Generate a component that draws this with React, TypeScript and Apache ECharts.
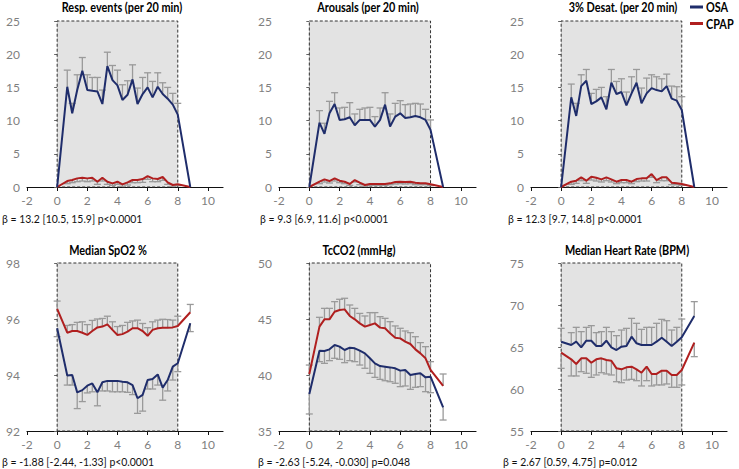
import React, { useEffect, useRef } from "react";
import * as echarts from "echarts";

// time (hours) of each 20-min epoch
const hours = [0, 0.67, 1, 1.33, 1.67, 2, 2.33, 2.67, 3, 3.33, 3.67, 4, 4.33, 4.67, 5, 5.33, 5.67, 6, 6.33, 6.67, 7, 7.33, 7.67, 8, 8.83];
const xTicks = [-2, 0, 2, 4, 6, 8, 10];

// Resp. events
const respOSA = [0, 15.1, 11.1, 14.6, 17.5, 14.6, 14.5, 14.4, 12.5, 18.2, 16.1, 15.3, 13.1, 13.9, 16.2, 12.5, 14.0, 15.0, 13.5, 15.1, 14.0, 13.3, 12.4, 10.9, 0];
const respOSAErr = [0, 2.5, 1.5, 2.3, 2.0, 2.3, 2.0, 2.1, 2.1, 2.1, 2.2, 2.3, 2.3, 2.1, 2.2, 2.4, 2.5, 2.2, 2.4, 2.1, 1.7, 1.7, 1.7, 1.7, 0];
const respCPAP = [0, 0.9, 1.05, 1.3, 1.4, 1.3, 1.4, 0.8, 1.4, 0.8, 0.55, 0.8, 0.4, 0.7, 1.05, 1.05, 1.2, 1.65, 1.3, 1.2, 1.5, 0.7, 0.3, 0.4, 0];
const respCPAPErr = [0, 0.4, 0.4, 0.5, 0.5, 0.5, 0.5, 0.4, 0.5, 0.4, 0.3, 0.4, 0.3, 0.4, 0.4, 0.4, 0.5, 0.5, 0.5, 0.4, 0.5, 0.3, 0.2, 0.2, 0];

// Arousals
const arOSA = [0, 9.7, 8.0, 11.1, 12.5, 10.1, 10.2, 10.5, 9.3, 10.1, 10.1, 10.1, 9.1, 10.1, 12.4, 9.1, 10.6, 11.1, 10.4, 10.5, 10.7, 10.5, 10.1, 8.6, 0];
const arOSAErr = [0, 1.8, 1.6, 1.8, 1.7, 1.8, 1.8, 2.2, 1.7, 1.6, 1.8, 1.9, 1.5, 1.8, 1.8, 1.9, 2.0, 1.9, 2.0, 2.0, 1.9, 2.0, 1.6, 1.5, 0];
const arCPAP = [0, 0.8, 1.15, 0.9, 1.3, 0.95, 0.8, 0.45, 1.05, 0.65, 0.3, 0.45, 0.45, 0.45, 0.45, 0.55, 0.75, 0.8, 0.75, 0.8, 0.65, 0.55, 0.55, 0.4, 0];
const arCPAPErr = [0, 0.3, 0.4, 0.3, 0.4, 0.3, 0.3, 0.2, 0.3, 0.3, 0.2, 0.2, 0.2, 0.2, 0.2, 0.2, 0.3, 0.3, 0.3, 0.3, 0.3, 0.2, 0.2, 0.2, 0];

// 3% Desat.
const desOSA = [0, 13.5, 10.7, 15.2, 16.0, 12.5, 12.9, 13.5, 11.7, 15.7, 14.0, 14.3, 12.3, 14.1, 15.7, 12.6, 14.1, 14.9, 14.6, 14.4, 15.2, 13.3, 13.0, 11.6, 0];
const desOSAErr = [0, 2.0, 1.9, 1.7, 1.7, 1.6, 1.8, 1.5, 1.9, 2.0, 1.9, 2.0, 2.0, 2.5, 2.0, 2.3, 2.3, 2.0, 2.0, 1.9, 1.8, 1.9, 2.1, 2.0, 0];
const desCPAP = [0, 0.8, 0.95, 1.45, 0.95, 1.55, 1.4, 1.15, 1.45, 1.15, 0.8, 1.05, 1.05, 0.8, 1.2, 1.3, 1.3, 1.95, 1.05, 1.45, 1.45, 0.65, 0.55, 0.45, 0];
const desCPAPErr = [0, 0.4, 0.4, 0.5, 0.4, 0.5, 0.5, 0.4, 0.5, 0.4, 0.3, 0.4, 0.4, 0.3, 0.4, 0.4, 0.4, 0.5, 0.4, 0.5, 0.5, 0.3, 0.2, 0.2, 0];

// Median SpO2 %
const spoOSA = [95.67, 93.98, 94.0, 93.38, 93.46, 93.62, 93.70, 93.38, 93.74, 93.79, 93.79, 93.79, 93.76, 93.74, 93.64, 93.17, 93.29, 93.82, 93.86, 94.02, 93.55, 93.82, 94.3, 94.42, 95.85];
const spoOSAErr = [0.3, 0.34, 0.36, 0.58, 0.41, 0.26, 0.3, 0.48, 0.31, 0.36, 0.39, 0.39, 0.36, 0.36, 0.34, 0.54, 0.58, 0.32, 0.36, 0.38, 0.45, 0.39, 0.48, 0.3, 0.3];
const spoCPAP = [96.36, 95.51, 95.57, 95.57, 95.51, 95.43, 95.57, 95.7, 95.73, 95.81, 95.61, 95.43, 95.46, 95.55, 95.67, 95.67, 95.57, 95.4, 95.61, 95.67, 95.69, 95.69, 95.7, 95.75, 96.24];
const spoCPAPErr = [0.28, 0.26, 0.23, 0.31, 0.39, 0.37, 0.38, 0.3, 0.29, 0.29, 0.29, 0.3, 0.31, 0.33, 0.26, 0.29, 0.27, 0.29, 0.29, 0.29, 0.3, 0.29, 0.26, 0.35, 0.28];

// TcCO2 (mmHg)
const tcOSA = [38.3, 42.17, 42.14, 42.29, 42.68, 42.53, 42.23, 42.44, 42.38, 42.17, 41.93, 41.49, 41.04, 40.8, 40.74, 40.68, 40.6, 40.39, 40.45, 40.0, 40.09, 40.15, 39.79, 39.85, 37.11];
const tcOSAErr = [1.78, 0.98, 1.1, 1.01, 1.19, 1.13, 1.13, 1.16, 1.19, 1.28, 1.33, 1.34, 1.25, 1.19, 1.25, 1.28, 1.34, 1.43, 1.43, 1.28, 1.19, 1.19, 1.28, 1.43, 1.13];
const tcCPAP = [40.09, 44.32, 44.97, 44.97, 45.65, 45.8, 45.86, 45.27, 44.97, 44.61, 44.32, 44.46, 44.61, 44.23, 44.17, 43.72, 43.33, 43.27, 42.98, 42.77, 42.29, 41.93, 41.49, 40.45, 39.02];
const tcCPAPErr = [0.8, 0.83, 0.98, 0.98, 0.9, 0.96, 0.99, 0.98, 0.98, 0.89, 0.95, 1.11, 0.96, 0.98, 0.89, 1.04, 1.05, 0.9, 0.95, 1.01, 1.13, 0.96, 1.04, 0.74, 1.07];

// Median Heart Rate (BPM)
const hrOSA = [65.63, 65.24, 65.63, 64.96, 65.75, 65.75, 65.12, 65.12, 65.75, 64.96, 64.64, 65.04, 65.12, 66.23, 65.44, 65.24, 65.24, 65.24, 65.63, 66.11, 65.63, 65.12, 65.63, 66.15, 68.69];
const hrOSAErr = [1.59, 1.47, 1.71, 1.87, 1.59, 1.79, 1.59, 1.71, 1.59, 1.87, 1.71, 1.98, 2.1, 2.18, 2.38, 1.86, 2.1, 2.1, 2.19, 2.18, 2.5, 1.9, 1.71, 2.18, 1.71];
const hrCPAP = [64.33, 63.53, 62.98, 63.65, 63.65, 63.13, 63.53, 63.65, 63.45, 63.37, 62.46, 62.34, 62.58, 62.66, 62.34, 61.94, 62.66, 61.79, 61.79, 62.18, 62.18, 61.67, 61.67, 62.26, 65.52];
const hrCPAPErr = [1.87, 1.98, 1.43, 1.59, 1.78, 1.74, 1.86, 1.71, 1.66, 1.7, 1.59, 1.59, 1.51, 1.51, 1.35, 1.58, 1.67, 1.43, 1.31, 1.7, 1.58, 1.47, 1.47, 1.78, 1.67];

const titles = ["Resp. events (per 20 min)", "Arousals (per 20 min)", "3% Desat. (per 20 min)", "Median SpO2 %", "TcCO2 (mmHg)", "Median Heart Rate (BPM)"];
const betas = [
  "β = 13.2 [10.5, 15.9] p<0.0001",
  "β = 9.3 [6.9, 11.6] p<0.0001",
  "β = 12.3 [9.7, 14.8] p<0.0001",
  "β = -1.88 [-2.44, -1.33] p<0.0001",
  "β = -2.63 [-5.24, -0.030] p=0.048",
  "β = 2.67 [0.59, 4.75] p=0.012",
];
const yRanges = [[0, 25, 5], [0, 25, 5], [0, 25, 5], [92, 98, 2], [35, 50, 5], [55, 75, 5]];

const OSA_COLOR = "#1f2d6b";
const CPAP_COLOR = "#b01f1f";
const FONT = "Lato, 'Noto Sans', sans-serif";
const NARROW = 0.87;

type Panel = { osa: number[]; osaErr: number[]; cpap: number[]; cpapErr: number[]; osaDir: number; cpapDir: number };
const panels: Panel[] = [
  { osa: respOSA, osaErr: respOSAErr, cpap: respCPAP, cpapErr: respCPAPErr, osaDir: 1, cpapDir: -1 },
  { osa: arOSA, osaErr: arOSAErr, cpap: arCPAP, cpapErr: arCPAPErr, osaDir: 1, cpapDir: -1 },
  { osa: desOSA, osaErr: desOSAErr, cpap: desCPAP, cpapErr: desCPAPErr, osaDir: 1, cpapDir: -1 },
  { osa: spoOSA, osaErr: spoOSAErr, cpap: spoCPAP, cpapErr: spoCPAPErr, osaDir: -1, cpapDir: 1 },
  { osa: tcOSA, osaErr: tcOSAErr, cpap: tcCPAP, cpapErr: tcCPAPErr, osaDir: -1, cpapDir: 1 },
  { osa: hrOSA, osaErr: hrOSAErr, cpap: hrCPAP, cpapErr: hrCPAPErr, osaDir: 1, cpapDir: -1 },
];

// layout
const gridBoxes = [
  { left: 27, top: 21, width: 196, height: 166 },
  { left: 279, top: 21, width: 197, height: 166 },
  { left: 531, top: 21, width: 196, height: 166 },
  { left: 27, top: 263, width: 196, height: 168 },
  { left: 279, top: 263, width: 197, height: 168 },
  { left: 531, top: 263, width: 196, height: 168 },
];
const titlePos = [[122, 7], [368, 7], [623, 7], [108, 250], [359, 250], [627, 250]];
const betaPos = [[2, 218], [260, 218], [508, 218], [2, 461], [258, 461], [503, 461]];

function errSeries(i: number, name: string, means: number[], errs: number[], dir: number) {
  const [ymin, ymax] = yRanges[i];
  return {
    type: "custom",
    name: name + " err",
    xAxisIndex: i,
    yAxisIndex: i,
    z: 2,
    silent: true,
    data: hours.map((h, k) => [h, means[k], errs[k]]),
    encode: { x: 0, y: 1 },
    renderItem: (params: any, api: any) => {
      const x = api.value(0);
      const m = api.value(1);
      const e = api.value(2);
      if (!e) return { type: "group", children: [] };
      let end = m + dir * e;
      end = Math.max(ymin, Math.min(ymax, end));
      const p0 = api.coord([x, m]);
      const p1 = api.coord([x, end]);
      const st = { stroke: "#9a9a9a", lineWidth: 1.3 };
      return {
        type: "group",
        children: [
          { type: "line", shape: { x1: p0[0], y1: p0[1], x2: p1[0], y2: p1[1] }, style: st },
          { type: "line", shape: { x1: p1[0] - 3.5, y1: p1[1], x2: p1[0] + 3.5, y2: p1[1] }, style: st },
        ],
      };
    },
  };
}

export default function App() {
  const ref = useRef<HTMLDivElement>(null);
  useEffect(() => {
    if (!ref.current) return;
    const chart = echarts.init(ref.current, null, { renderer: "svg" });
    const grid: any[] = [];
    const xAxis: any[] = [];
    const yAxis: any[] = [];
    const series: any[] = [];
    const graphic: any[] = [];
    panels.forEach((p, i) => {
      const [ymin, ymax, step] = yRanges[i];
      grid.push({ ...gridBoxes[i], containLabel: false });
      xAxis.push({
        type: "value",
        gridIndex: i,
        min: -2,
        max: 11,
        interval: 2,
        splitLine: { show: false },
        axisLine: { onZero: false, lineStyle: { color: "#111", width: 1.2 } },
        axisTick: { show: true, customValues: xTicks, length: 4, lineStyle: { color: "#111" } },
        axisLabel: { customValues: xTicks, color: "#7f7f7f", fontSize: 12, fontFamily: FONT, margin: 7 },
      });
      yAxis.push({
        type: "value",
        gridIndex: i,
        min: ymin,
        max: ymax,
        interval: step,
        splitLine: { show: false },
        axisLine: { show: true, lineStyle: { color: "#666", width: 1 } },
        axisTick: { show: true, length: 3, lineStyle: { color: "#666" } },
        axisLabel: { color: "#7f7f7f", fontSize: 12, fontFamily: FONT, margin: 7 },
      });
      series.push({
        type: "line",
        name: "bg" + i,
        xAxisIndex: i,
        yAxisIndex: i,
        z: 1,
        silent: true,
        data: [],
        markArea: {
          silent: true,
          itemStyle: { color: "#e3e3e3", borderColor: "#333", borderWidth: 1, borderType: [3, 2] },
          data: [[{ coord: [0, ymin] }, { coord: [8, ymax] }]],
        },
      });
      series.push(errSeries(i, "OSA", p.osa, p.osaErr, p.osaDir));
      series.push(errSeries(i, "CPAP", p.cpap, p.cpapErr, p.cpapDir));
      series.push({
        type: "line",
        name: "CPAP",
        xAxisIndex: i,
        yAxisIndex: i,
        z: 3,
        symbol: "none",
        lineStyle: { color: CPAP_COLOR, width: 2 },
        itemStyle: { color: CPAP_COLOR },
        data: hours.map((h, k) => [h, p.cpap[k]]),
      });
      series.push({
        type: "line",
        name: "OSA",
        xAxisIndex: i,
        yAxisIndex: i,
        z: 4,
        symbol: "none",
        lineStyle: { color: OSA_COLOR, width: 2 },
        itemStyle: { color: OSA_COLOR },
        data: hours.map((h, k) => [h, p.osa[k]]),
      });
      graphic.push({
        type: "text",
        x: titlePos[i][0],
        y: titlePos[i][1],
        scaleX: NARROW,
        style: { text: titles[i], font: `bold 12.5px ${FONT}`, fill: "#000", textAlign: "center", textVerticalAlign: "middle" },
      });
      graphic.push({
        type: "text",
        x: betaPos[i][0],
        y: betaPos[i][1],
        scaleX: NARROW,
        style: { text: betas[i], font: `12px ${FONT}`, fill: "#111", textAlign: "left", textVerticalAlign: "middle" },
      });
    });
    // legend
    graphic.push({ type: "rect", shape: { x: 690, y: 5.5, width: 13, height: 3 }, style: { fill: OSA_COLOR } });
    graphic.push({ type: "text", x: 706, y: 7, scaleX: NARROW, style: { text: "OSA", font: `bold 12.5px ${FONT}`, fill: "#000", textVerticalAlign: "middle" } });
    graphic.push({ type: "rect", shape: { x: 690, y: 22, width: 13, height: 3 }, style: { fill: CPAP_COLOR } });
    graphic.push({ type: "text", x: 706, y: 23.5, scaleX: NARROW, style: { text: "CPAP", font: `bold 12.5px ${FONT}`, fill: "#000", textVerticalAlign: "middle" } });

    chart.setOption({ animation: false, backgroundColor: "#fff", grid, xAxis, yAxis, series, graphic });
    return () => chart.dispose();
  }, []);
  return <div ref={ref} style={{ position: "absolute", left: 0, top: 0, width: 739, height: 469 }} />;
}
